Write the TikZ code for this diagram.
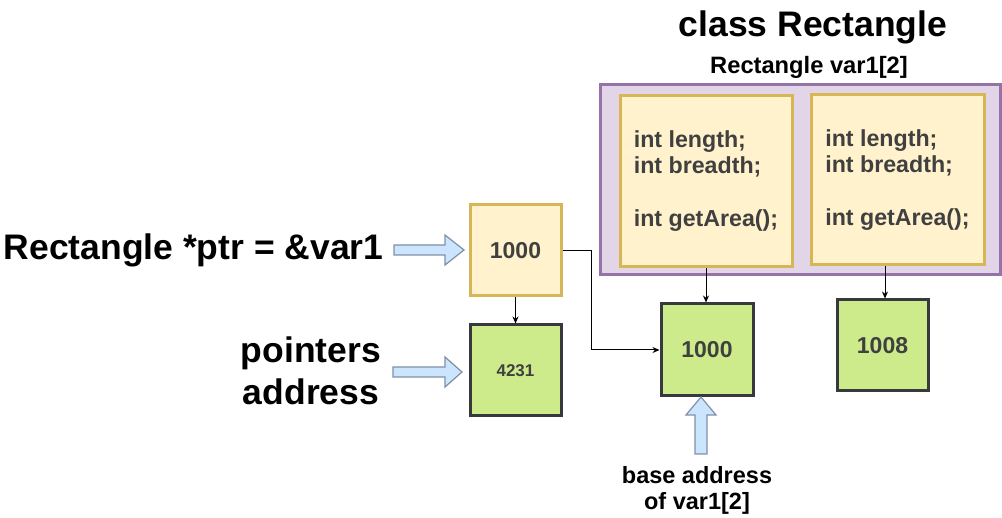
\documentclass[tikz,border=0pt]{standalone}
\usepackage{fontspec}
\setmainfont{Liberation Sans}
\usetikzlibrary{arrows.meta}
\definecolor{yfill}{HTML}{FFF2CC}
\definecolor{ydraw}{HTML}{D6B656}
\definecolor{pfill}{HTML}{E1D5E7}
\definecolor{pdraw}{HTML}{9673A6}
\definecolor{gfill}{HTML}{CDEB8B}
\definecolor{gdraw}{HTML}{36393D}
\definecolor{afill}{HTML}{CCE5FF}
\definecolor{adraw}{HTML}{7F8FA6}
\definecolor{txt}{HTML}{404040}
\tikzset{
  ybox/.style={draw=ydraw,fill=yfill,line width=3pt,inner sep=0pt},
  gbox/.style={draw=gdraw,fill=gfill,line width=3pt,minimum width=91pt,minimum height=91pt,inner sep=0pt,text=txt},
  code/.style={font=\bfseries\fontsize{23.2}{26.5}\selectfont,text=txt,align=left},
  num/.style={font=\bfseries\fontsize{23}{27}\selectfont},
  big/.style={font=\bfseries\fontsize{35.5}{42}\selectfont,text=black},
  mid/.style={font=\bfseries\fontsize{23.5}{26}\selectfont,text=black},
  conn/.style={line width=1pt,-{Stealth[length=7pt,width=6pt]}},
  blockarrow/.style={draw=adraw,fill=afill,line width=1.2pt,line join=miter}
}
\begin{document}
\begin{tikzpicture}[x=1pt,y=-1pt]
\useasboundingbox (0,0) rectangle (1002,518);
% title
\node[big] (title) at (813,27) {class Rectangle};
\node[font=\bfseries\fontsize{23.7}{28}\selectfont] (sub) at (809,67) {Rectangle var1[2]};
% outer purple box
\node[draw=pdraw,fill=pfill,line width=3pt,minimum width=400pt,minimum height=190pt,inner sep=0pt] (outer) at (800,180) {};
% inner class boxes
\node[ybox,code,minimum width=172pt,minimum height=171pt] (in1) at (706,181) {int length;\\int breadth;\\[26.5pt]int getArea();};
\node[ybox,code,minimum width=173pt,minimum height=170pt] (in2) at (897.5,180) {int length;\\int breadth;\\[26.5pt]int getArea();};
% pointer box
\node[ybox,num,text=txt,minimum width=91pt,minimum height=91pt] (ptr) at (515.5,250.5) {1000};
\node[gbox,font=\bfseries\fontsize{17}{20}\selectfont] (paddr) at (515.5,370.5) {4231};
\node[gbox,num,minimum width=92pt,minimum height=92pt] (g1) at (707,350) {1000};
\node[gbox,num] (g2) at (882.5,345.5) {1008};
% labels
\node[big,anchor=east] (lptr) at (387,250) {Rectangle *ptr = \&var1};
\node[big,align=center] (lpa) at (311,371) {pointers\\address};
\node[mid,align=center] (lbase) at (697,490) {base address\\of var1[2]};
% connectors
\draw[conn] (ptr.south) -- (paddr.north);
\draw[conn] (ptr.east) -- ++(29,0) |- (g1.west);
\draw[conn] (in1.south) -- (in1.south |- g1.north);
\draw[conn] ([xshift=2.5pt]g2.north |- in2.south) -- ([xshift=2.5pt]g2.north);
% block arrows
\path[blockarrow] (394,245) -- (445,245) -- (445,235) -- (464,250) -- (445,265) -- (445,255) -- (394,255) -- cycle;
\path[blockarrow] (393,367) -- (445,367) -- (445,357) -- (462,372) -- (445,387) -- (445,377) -- (393,377) -- cycle;
\path[blockarrow] (695,454) -- (695,415) -- (686,415) -- (701,397) -- (716,415) -- (707,415) -- (707,454) -- cycle;
\end{tikzpicture}
\end{document}
